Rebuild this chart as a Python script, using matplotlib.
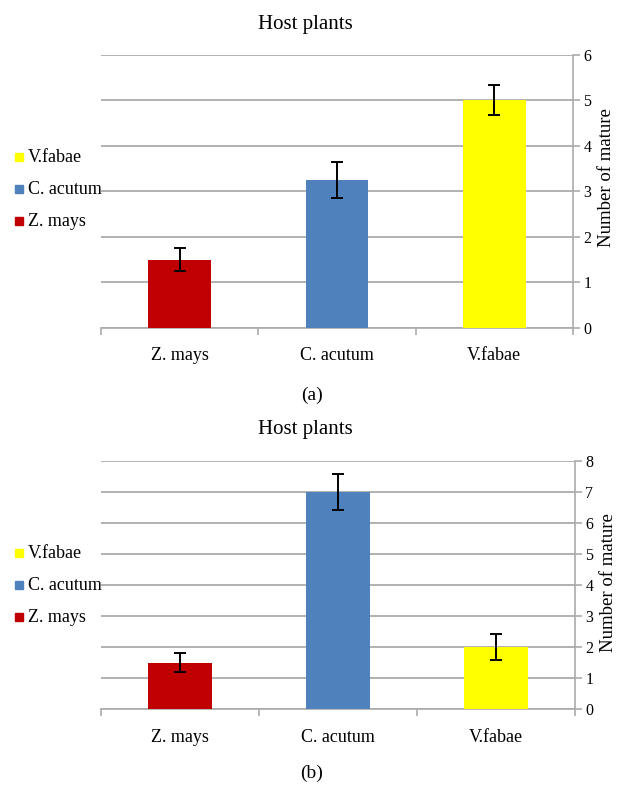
import matplotlib
matplotlib.use("Agg")
import matplotlib.pyplot as plt
from matplotlib.patches import Rectangle

plt.rcParams['font.family'] = ['Liberation Serif', 'DejaVu Serif']

# Данные
plants = ["Z. mays", "C. acutum", "V.fabae"]
colors = ["#C00000", "#4F81BD", "#FFFF00"]

mature_a = [1.5, 3.25, 5.0]
err_a = [0.25, 0.39, 0.33]

mature_b = [1.5, 7.0, 2.0]
err_b = [0.30, 0.58, 0.42]

grid_col = "#ababab"

fig = plt.figure(figsize=(6.18, 7.86), dpi=100)
W, H = 618.0, 786.0


def draw_panel(rect, values, errors, ymax, label_y, panel, title_y, panel_y, legend_y):
    ax = fig.add_axes(rect)
    x = list(range(len(plants)))
    ax.bar(x, values, width=0.4, color=colors, zorder=3)
    ax.errorbar(x, values, yerr=errors, fmt='none', ecolor='black',
                elinewidth=1.4, capsize=4.5, capthick=1.4, zorder=4)

    ax.set_xlim(-0.5, len(plants) - 0.5)
    ax.set_ylim(0, ymax)
    ax.set_yticks(range(0, ymax + 1))
    ax.yaxis.tick_right()
    ax.yaxis.set_label_position('right')
    ax.grid(True, axis='y', color=grid_col, linewidth=1.3, zorder=0)

    for s in ['left', 'top']:
        ax.spines[s].set_visible(False)
    for s in ['right', 'bottom']:
        ax.spines[s].set_color(grid_col)
        ax.spines[s].set_linewidth(1.2)

    ax.tick_params(axis='y', which='major', length=5, width=1.2, color=grid_col,
                   labelsize=11.5, pad=2.5)
    ax.set_xticks(x)
    ax.set_xticklabels(plants, fontsize=13)
    ax.tick_params(axis='x', which='major', length=0, pad=14)
    ax.set_xticks([i - 0.5 for i in range(len(plants) + 1)], minor=True)
    ax.tick_params(axis='x', which='minor', length=5, width=1.2, color=grid_col)

    ax.set_ylabel("Number of mature", fontsize=13.5, rotation=90)
    ax.yaxis.set_label_coords(1.052, label_y)

    fig.text(305 / W, 1 - title_y / H, "Host plants", fontsize=15,
             ha='center', va='center')
    fig.text(312 / W, 1 - panel_y / H, panel, fontsize=14,
             ha='center', va='center')

    # легенда слева (в обратном порядке)
    for i, (name, c) in enumerate(reversed(list(zip(plants, colors)))):
        yc = legend_y + i * 32
        fig.patches.append(Rectangle((15 / W, 1 - (yc + 4) / H), 8 / W, 8 / H,
                                     transform=fig.transFigure, color=c))
        fig.text(28 / W, 1 - yc / H, name, fontsize=13, ha='left', va='center')
    return ax


draw_panel([101 / W, 1 - 328 / H, 472 / W, (328 - 54.7) / H],
           mature_a, err_a, 6, 0.552, "(a)", 24, 395, 157)
draw_panel([101 / W, 1 - 709.3 / H, 474 / W, (709.3 - 461) / H],
           mature_b, err_b, 8, 0.509, "(b)", 430, 773, 553)

fig.savefig("out.png", dpi=100)
